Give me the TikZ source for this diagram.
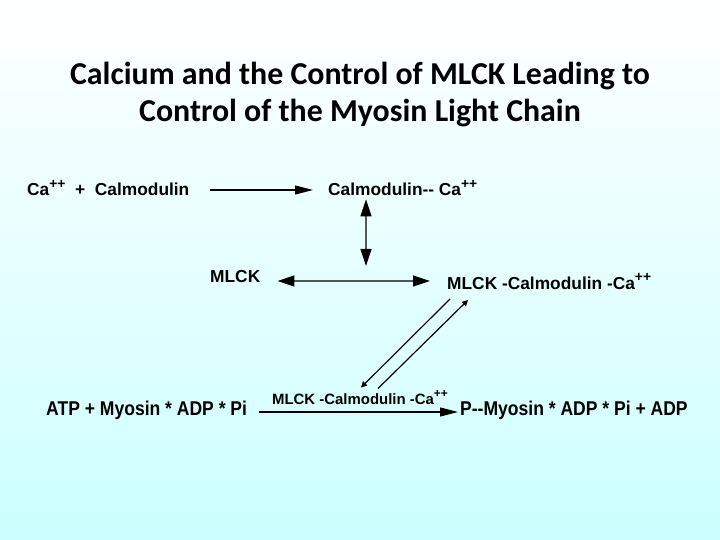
\documentclass[tikz,border=0pt]{standalone}
\usepackage{fontspec}
\setmainfont{Liberation Sans}
\newfontfamily\titlefont{Carlito}
\newfontfamily\narrowfont[FakeStretch=0.88]{Liberation Sans}
\usetikzlibrary{arrows.meta, positioning}
\definecolor{bgcyan}{RGB}{204,255,255}
\newcommand{\plusplus}{\raisebox{0.42em}{\scalebox{0.8}{++}}}

\begin{document}
\begin{tikzpicture}[
    x=1bp, y=-1bp,
    title/.style={font=\titlefont\bfseries\fontsize{32}{38}\selectfont, inner sep=0pt, anchor=base},
    chem/.style={font=\bfseries\fontsize{17.4}{20}\selectfont, inner sep=0pt, anchor=base west},
    chemnarrow/.style={font=\narrowfont\bfseries\fontsize{20}{24}\selectfont, inner sep=0pt, anchor=base west},
    enzlabel/.style={font=\bfseries\fontsize{15}{18}\selectfont, inner sep=0pt, anchor=base},
    arrow/.style={-{Triangle[length=18bp, width=9bp]}, line width=1.2bp},
    dblarrow/.style={{Triangle[length=17bp, width=11bp]}-{Triangle[length=17bp, width=11bp]}, line width=1.2bp},
    diag/.style={-{Triangle[length=6bp, width=6bp]}, line width=1.2bp}
]
\shade[top color=white, bottom color=bgcyan] (0,0) rectangle (720,540);

\node[title] (title1) at (360,85) {Calcium and the Control of MLCK Leading to};
\node[title] (title2) at (360,122) {Control of the Myosin Light Chain};

\node[chem] (ca) at (27,196) {Ca\plusplus\ \ +\ \ Calmodulin};
\node[chem] (cam) at (328,196) {Calmodulin-{}- Ca\plusplus};
\node[chem] (mlck) at (210,283) {MLCK};
\node[chem] (mlckcam) at (447,289) {MLCK -Calmodulin -Ca\plusplus};
\node[chemnarrow] (atp) at (46,415) {ATP + Myosin * ADP * Pi};
\node[chemnarrow] (pmyo) at (460,415) {P-{}-Myosin * ADP * Pi + ADP};
\node[enzlabel] (enz) at (360,404) {MLCK -Calmodulin -Ca\plusplus};

\coordinate (bind) at (366,266);
\draw[arrow] ([xshift=20bp, yshift=6bp]ca.base east) -- ([xshift=-15bp, yshift=6bp]cam.base west);
\draw[dblarrow] ([xshift=38bp, yshift=-3bp]cam.south west) -- (bind);
\draw[dblarrow] ([xshift=17bp, yshift=2bp]mlck.base east) -- ([xshift=-17bp, yshift=8bp]mlckcam.base west);
\draw[diag] ([xshift=3bp, yshift=-10bp]mlckcam.base west) -- ([xshift=1bp, yshift=3bp]enz.north);
\draw[diag] ([xshift=18bp, yshift=2bp]enz.north) -- ([xshift=21bp, yshift=-11bp]mlckcam.base west);
\draw[arrow] ([xshift=12bp, yshift=3bp]atp.base east) -- ([xshift=-2bp, yshift=3bp]pmyo.base west);
\end{tikzpicture}
\end{document}
